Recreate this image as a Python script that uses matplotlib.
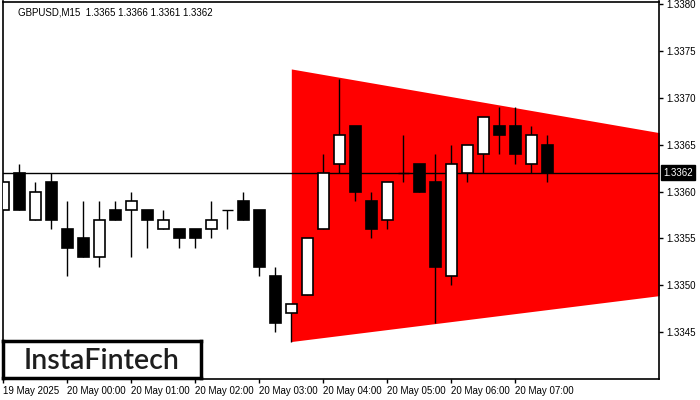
import matplotlib
matplotlib.use("Agg")
import matplotlib.pyplot as plt
from matplotlib.patches import Rectangle

# GBPUSD M15 candles, 19 May 23:00 onwards
opens  = [1.3358, 1.3362, 1.3357, 1.3361, 1.3356, 1.3355, 1.3353, 1.3358, 1.3358, 1.3358,
          1.3356, 1.3356, 1.3356, 1.3356, 1.3358, 1.3359, 1.3358, 1.3351, 1.3347, 1.3349,
          1.3356, 1.3363, 1.3367, 1.3359, 1.3357, 1.3362, 1.3363, 1.3361, 1.3351, 1.3362,
          1.3364, 1.3367, 1.3367, 1.3363, 1.3365]
highs  = [1.3361, 1.3363, 1.3361, 1.3362, 1.3359, 1.3359, 1.3359, 1.3359, 1.3360, 1.3358,
          1.3358, 1.3356, 1.3356, 1.3359, 1.3358, 1.3360, 1.3358, 1.3352, 1.3348, 1.3355,
          1.3364, 1.3372, 1.3367, 1.3360, 1.3361, 1.3366, 1.3363, 1.3364, 1.3365, 1.3365,
          1.3368, 1.3369, 1.3369, 1.3367, 1.3366]
lows   = [1.3358, 1.3358, 1.3357, 1.3356, 1.3351, 1.3353, 1.3352, 1.3357, 1.3353, 1.3354,
          1.3356, 1.3354, 1.3354, 1.3355, 1.3356, 1.3357, 1.3351, 1.3345, 1.3344, 1.3349,
          1.3356, 1.3362, 1.3359, 1.3355, 1.3356, 1.3361, 1.3360, 1.3346, 1.3350, 1.3361,
          1.3362, 1.3364, 1.3363, 1.3362, 1.3361]
closes = [1.3361, 1.3358, 1.3360, 1.3357, 1.3354, 1.3353, 1.3357, 1.3357, 1.3359, 1.3357,
          1.3357, 1.3355, 1.3355, 1.3357, 1.3358, 1.3357, 1.3352, 1.3346, 1.3348, 1.3355,
          1.3362, 1.3366, 1.3360, 1.3356, 1.3361, 1.3362, 1.3360, 1.3352, 1.3363, 1.3365,
          1.3368, 1.3366, 1.3364, 1.3366, 1.3362]

# broadening triangle pattern (bar index, upper, lower)
pattern_x = [18, 41]
pattern_top = [1.33731, 1.33663]
pattern_bot = [1.33440, 1.33489]

current_price = 1.3362
price_ticks = [1.3345, 1.3350, 1.3355, 1.3360, 1.3365, 1.3370, 1.3375, 1.3380]
time_tick_pos = [0, 4, 8, 12, 16, 20, 24, 28, 32]
time_tick_labels = ["19 May 2025", "20 May 00:00", "20 May 01:00", "20 May 02:00",
                    "20 May 03:00", "20 May 04:00", "20 May 05:00", "20 May 06:00",
                    "20 May 07:00"]

plt.rcParams["font.family"] = ["Liberation Sans", "DejaVu Sans"]

fig = plt.figure(figsize=(7, 4), dpi=100)
ax = fig.add_axes([2.5 / 700, 1 - 379 / 400, (659 - 2.5) / 700, (379 - 1.5) / 400])
ax.set_xlim(-0.05, 40.98)
ax.set_ylim(1.33400, 1.33803)

# pattern area
ax.fill_between(pattern_x, pattern_bot, pattern_top, color="#ff0000", lw=0, zorder=1)

# current price line
ax.axhline(current_price, color="black", lw=1, zorder=2)

# candles
width = 0.66
for i in range(len(opens)):
    o, h, l, c = opens[i], highs[i], lows[i], closes[i]
    ax.vlines(i, l, h, color="black", lw=1, zorder=3)
    if o == c:
        ax.hlines(o, i - width / 2, i + width / 2, color="black", lw=1, zorder=4)
    else:
        face = "white" if c > o else "black"
        ax.add_patch(Rectangle((i - width / 2, min(o, c)), width, abs(c - o),
                               facecolor=face, edgecolor="black", lw=1.2, zorder=4))

# axes styling
for side in ["left", "top", "right", "bottom"]:
    ax.spines[side].set_linewidth(1.2)
ax.yaxis.tick_right()
ax.set_yticks(price_ticks)
ax.set_yticklabels([f"{p:.4f}" for p in price_ticks])
ax.tick_params(axis="y", direction="out", length=3, width=1, pad=2,
               labelsize=7, colors="black")
ax.set_xticks(time_tick_pos)
ax.set_xticklabels(time_tick_labels)
ax.tick_params(axis="x", direction="out", length=3, width=1, pad=2,
               labelsize=7, colors="black")
for lab in ax.get_xticklabels():
    lab.set_horizontalalignment("left")

# current price tag on the right
ax.text(1.006, current_price, f"{current_price:.4f}", transform=ax.get_yaxis_transform(),
        ha="left", va="center", fontsize=7, color="white",
        bbox=dict(boxstyle="square,pad=0.25", facecolor="black", edgecolor="black"))

# header
ax.text(0.024, 0.985, "GBPUSD,M15  1.3365 1.3366 1.3361 1.3362", transform=ax.transAxes,
        ha="left", va="top", fontsize=7, color="black")

# logo box
logo_ax = fig.add_axes([3 / 700, 1 - 378 / 400, 198 / 700, 37 / 400])
logo_ax.set_xticks([])
logo_ax.set_yticks([])
for side in logo_ax.spines.values():
    side.set_linewidth(2.5)
logo_ax.text(0.5, 0.47, "InstaFintech", ha="center", va="center", fontsize=20.5,
             color="#1e1e1e", family="Lato", weight="semibold", transform=logo_ax.transAxes)

fig.savefig("out.png", dpi=100)
